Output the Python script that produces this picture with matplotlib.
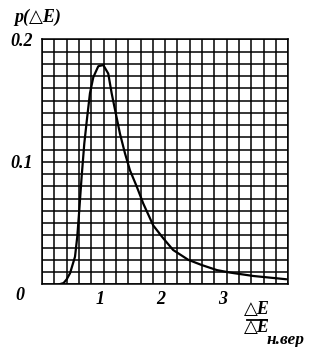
import matplotlib
matplotlib.use('Agg')
import matplotlib.pyplot as plt
from matplotlib.lines import Line2D
import numpy as np

# curve (x in units of dE/dE_nver, y = p(dE))
x_vals = [0.28, 0.35, 0.40, 0.455, 0.536, 0.573, 0.606, 0.644, 0.687, 0.735, 0.779, 0.833,
          0.914, 0.995, 1.076, 1.131, 1.196, 1.266, 1.347, 1.429, 1.537, 1.644, 1.807,
          1.97, 2.13, 2.375, 2.59, 2.84, 3.05, 3.43, 3.97]
y_vals = [0.000, 0.001, 0.004, 0.009, 0.0225, 0.039, 0.061, 0.088, 0.115, 0.137, 0.156, 0.169,
          0.178, 0.179, 0.172, 0.156, 0.140, 0.123, 0.107, 0.093, 0.080, 0.066, 0.048,
          0.0375, 0.028, 0.020, 0.0158, 0.0116, 0.0096, 0.0068, 0.0041]

x_ticks = [1, 2, 3]
x_tick_labels = ['1', '2', '3']
y_ticks = [0.1, 0.2]
y_tick_labels = ['0.1', '0.2']

W, H = 336, 347
fig = plt.figure(figsize=(W / 100, H / 100), dpi=100)
ax = fig.add_axes([42 / W, 1 - 284.3 / H, 246.3 / W, 245 / H])

fam = ['Liberation Serif', 'DejaVu Serif']
font = dict(family=fam, fontweight='bold', fontstyle='italic', fontsize=13)

ax.set_xlim(0, 4)
ax.set_ylim(0, 0.2)
ax.set_xticks(np.arange(0, 4.001, 0.2))
ax.set_yticks(np.arange(0, 0.2001, 0.01))
ax.grid(True, color='black', linewidth=1.1)
ax.tick_params(length=0, labelbottom=False, labelleft=False)
for s in ax.spines.values():
    s.set_linewidth(1.1)

ax.plot(x_vals, y_vals, color='black', linewidth=1.6,
        solid_capstyle='round', solid_joinstyle='round')


def px(x, y):
    return x / W, 1 - y / H


# tick labels (slightly left of grid lines, as in the figure)
for xv, lab in zip(x_ticks, x_tick_labels):
    xp = 42 + xv * 61.6 - 4
    fig.text(*px(xp, 300), lab, ha='center', va='center', **font)
for yv, lab in zip(y_ticks, y_tick_labels):
    yp = 284.3 - yv / 0.2 * 245
    fig.text(*px(22, yp + 2), lab, ha='center', va='center', **font)
fig.text(*px(20, 296), '0', ha='center', va='center', **font)

# axis titles
fig.text(*px(38, 17), 'p(△E)', ha='center', va='center', **font)
fig.text(*px(257, 309), '△E', ha='center', va='center', **font)
fig.add_artist(Line2D([247 / W, 267 / W], [1 - 319.5 / H, 1 - 319.5 / H],
                      transform=fig.transFigure, color='black', linewidth=1.3))
fig.text(*px(257, 328), '△E', ha='center', va='center', **font)
fig.text(*px(267, 340), 'н.вер', ha='left', va='center',
         family=fam, fontweight='bold', fontstyle='italic', fontsize=12.5)

fig.savefig('out.png', dpi=100)
